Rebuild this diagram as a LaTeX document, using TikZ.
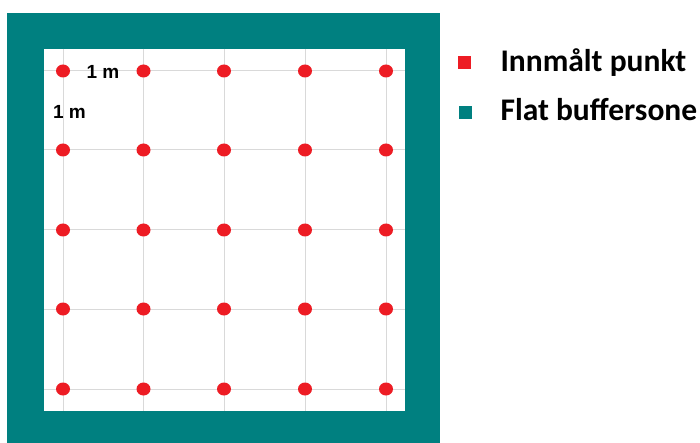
\documentclass[tikz,border=0pt]{standalone}
\usepackage{fontspec}
\setmainfont{Carlito}
\newfontfamily\labfont{Liberation Sans}
\definecolor{buffer}{RGB}{0,128,128}
\definecolor{punkt}{RGB}{237,28,36}
\definecolor{rute}{RGB}{217,217,217}
\tikzset{
  dot/.style={ellipse,fill=punkt,inner sep=0pt,minimum width=14pt,minimum height=13pt},
  keybox/.style={inner sep=0pt,minimum size=13pt},
  keytext/.style={anchor=base west,font=\fontsize{31.5}{36}\selectfont\bfseries},
  dist/.style={anchor=base,font=\labfont\bfseries\fontsize{19}{22}\selectfont},
}
\usetikzlibrary{shapes.geometric}
\begin{document}
\begin{tikzpicture}[x=1pt,y=-1pt]
  \useasboundingbox (0,0) rectangle (700,443);
  \fill[buffer](7,13) rectangle(440,443);
  \fill[white](44,49) rectangle(405,411);
  \foreach \x in {63,143.5,224,305,386}{
    \draw[rute,line width=1pt](\x,49)--(\x,411);}
  \foreach \y in {71,150,230,309,389}{
    \draw[rute,line width=1pt](44,\y)--(405,\y);}
  \foreach \x [count=\i] in {63,143.5,224,305,386}{\foreach \y [count=\j] in {71,150,230,309,389}{
    \node[dot] (p\i\j) at (\x,\y){};}}
  \node[dist] (dx) at (103,79){1 m};
  \node[dist] (dy) at (69.5,119){1 m};
  % tegnforklaring
  \node[keybox,fill=punkt] (kp) at (464,63){};
  \node[keybox,fill=buffer] (kb) at (465,113){};
  \node[keytext] (tp) at (497,72){Innmålt punkt};
  \node[keytext] (tb) at (497,121){Flat buffersone};
\end{tikzpicture}
\end{document}
